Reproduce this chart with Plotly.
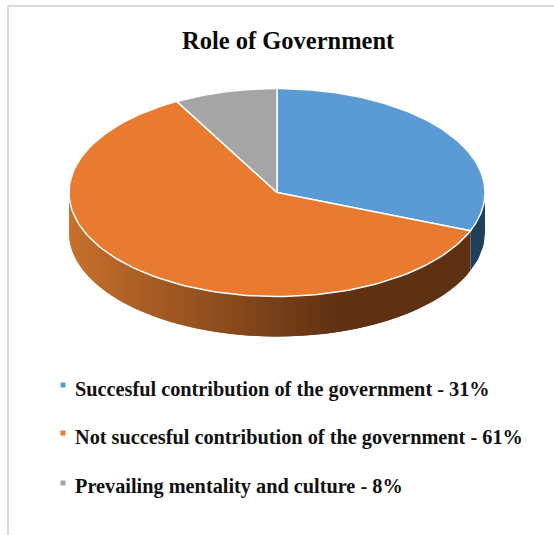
import numpy as np
import plotly.graph_objects as go

# Chart content
title = "Role of Government"
categories = [
    "Succesful contribution of the government",
    "Not succesful contribution of the government",
    "Prevailing mentality and culture",
]
values = [31, 61, 8]
colors = ["#5B9BD5", "#E97B30", "#A5A5A5"]

# Geometry of the tilted disc, in page pixels
CX, CY, RX, RY, DEPTH = 277.0, 192.5, 208.0, 104.0, 40.0
FONT = "Liberation Serif"


def rim(angles_deg, drop=0.0):
    """Points on the disc edge; angles run clockwise from twelve o'clock."""
    a = np.radians(angles_deg)
    return CX + RX * np.sin(a), CY - RY * np.cos(a) + drop


def side_color(x):
    """Shade of the orange wall: fades left to right, then stays dark."""
    t = min(max((x - 69) / (343 - 69), 0), 1)
    start, end = (200, 113, 45), (95, 49, 19)
    return "rgb(%d,%d,%d)" % tuple(s + (e - s) * t for s, e in zip(start, end))


fig = go.Figure()

# Cumulative slice boundaries in degrees
edges = np.cumsum([0] + values) / sum(values) * 360.0

# Outer wall of the first slice, visible only below the right extreme
ang = np.linspace(90, edges[1], 12)
x1, y1 = rim(ang)
x2, y2 = rim(ang[::-1], DEPTH)
fig.add_trace(go.Scatter(
    x=np.r_[x1, x2], y=np.r_[y1, y2], mode="lines", fill="toself",
    fillcolor="#1F3F5B", line=dict(width=0),
    showlegend=False, hoverinfo="skip",
))

# Outer wall of the second slice: shaded strips, each running under the next
steps = np.linspace(edges[1], 270, 91)
step = steps[1] - steps[0]
for a0 in steps[:-1]:
    ang = np.linspace(a0, min(a0 + 2 * step, 270), 4)
    x1, y1 = rim(ang)
    x2, y2 = rim(ang[::-1], DEPTH)
    c = side_color(float(x1[0]))
    fig.add_trace(go.Scatter(
        x=np.r_[x1, x2], y=np.r_[y1, y2], mode="lines", fill="toself",
        fillcolor=c, line=dict(width=0),
        showlegend=False, hoverinfo="skip",
    ))

# Top faces of the slices
for i, (cat, col) in enumerate(zip(categories, colors)):
    ang = np.linspace(edges[i], edges[i + 1], 120)
    x, y = rim(ang)
    fig.add_trace(go.Scatter(
        x=np.r_[CX, x, CX], y=np.r_[CY, y, CY], mode="lines", fill="toself",
        fillcolor=col, line=dict(color="white", width=1.5),
        name=cat, showlegend=False, hoverinfo="skip",
    ))

# Legend keys and their labels
legend_y = [385, 433, 483]
label_y = [389, 437, 486]
fig.add_trace(go.Scatter(
    x=[63] * 3, y=legend_y, mode="markers",
    marker=dict(symbol="square", size=5, color=colors, line=dict(width=0)),
    showlegend=False, hoverinfo="skip",
))
annotations = [
    dict(x=73, y=yy, xref="x", yref="y", xanchor="left", yanchor="middle",
         showarrow=False, text=f"<b>{cat} - {val}%</b>",
         font=dict(family=FONT, size=20.3, color="#111111"))
    for cat, val, yy in zip(categories, values, label_y)
]
annotations.append(dict(
    x=288, y=40, xref="x", yref="y", xanchor="center", yanchor="middle",
    showarrow=False, text=f"<b>{title}</b>",
    font=dict(family=FONT, size=24.5, color="#0A0A0A"),
))

# Light frame around the chart area
shapes = [
    dict(type="line", x0=8, x1=8, y0=6, y1=535, xref="x", yref="y",
         line=dict(color="#D9D9D9", width=2)),
    dict(type="line", x0=8, x1=554, y0=6, y1=6, xref="x", yref="y",
         line=dict(color="#D9D9D9", width=2)),
]

fig.update_layout(
    width=554, height=535, margin=dict(l=0, r=0, t=0, b=0),
    paper_bgcolor="white", plot_bgcolor="white", showlegend=False,
    xaxis=dict(range=[0, 554], visible=False, fixedrange=True),
    yaxis=dict(range=[535, 0], visible=False, fixedrange=True),
    annotations=annotations, shapes=shapes,
)

fig.write_html("out.html", config=dict(displayModeBar=False))
